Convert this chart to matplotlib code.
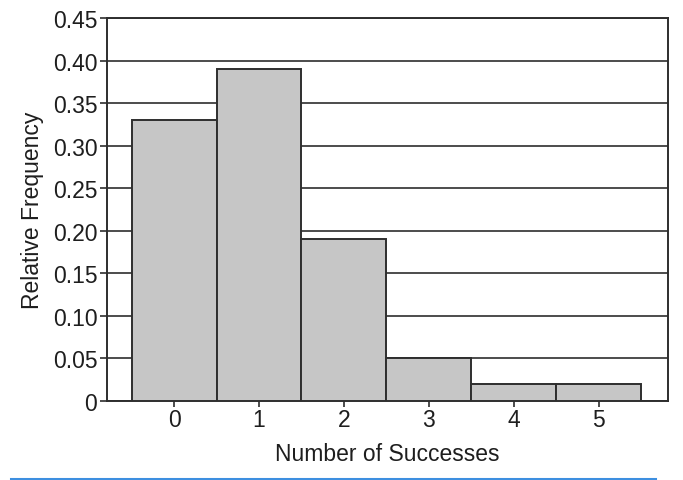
import numpy as np
import matplotlib.pyplot as plt
from matplotlib.lines import Line2D

plt.rcParams['font.family'] = ['Liberation Sans', 'DejaVu Sans']

successes = [0, 1, 2, 3, 4, 5]
rel_freq = [0.33, 0.39, 0.19, 0.05, 0.02, 0.02]
y_ticks = [0, 0.05, 0.10, 0.15, 0.20, 0.25, 0.30, 0.35, 0.40, 0.45]
y_labels = ["0", "0.05", "0.10", "0.15", "0.20", "0.25", "0.30", "0.35", "0.40", "0.45"]

fig = plt.figure(figsize=(6.83, 4.81), dpi=100)
ax = fig.add_axes([107 / 683, 1 - 401.7 / 481, (667.5 - 107) / 683, (401.7 - 19) / 481])

ax.bar(successes, rel_freq, width=1.0, color="#c6c6c6", edgecolor="#2e2e2e",
       linewidth=1.4, zorder=3)

ax.set_xlim(-0.79, 5.81)
ax.set_ylim(0, 0.45)
ax.set_yticks(y_ticks)
ax.set_yticklabels(y_labels)
ax.set_xticks(successes)

ax.yaxis.grid(True, color="#2e2e2e", linewidth=1.2, zorder=0)
ax.set_axisbelow(True)

for s in ax.spines.values():
    s.set_color("#2e2e2e")
    s.set_linewidth(1.4)

ax.tick_params(axis="y", direction="out", length=5, width=1.2, pad=2,
               labelsize=16.5, color="#2e2e2e", labelcolor="#1e1e1e")
ax.tick_params(axis="x", direction="inout", length=8, width=1.2, pad=1,
               labelsize=16.5, color="#2e2e2e", labelcolor="#1e1e1e")

ax.set_xlabel("Number of Successes", fontsize=16.5, color="#1e1e1e", labelpad=8)
ax.set_ylabel("Relative Frequency", fontsize=16.5, color="#1e1e1e", labelpad=6)

fig.add_artist(Line2D([11 / 683, 655 / 683], [1 - 479.5 / 481, 1 - 479.5 / 481],
                      color="#3d8fe0", linewidth=2.2, transform=fig.transFigure))

fig.savefig("out.png", dpi=100, facecolor="white")
